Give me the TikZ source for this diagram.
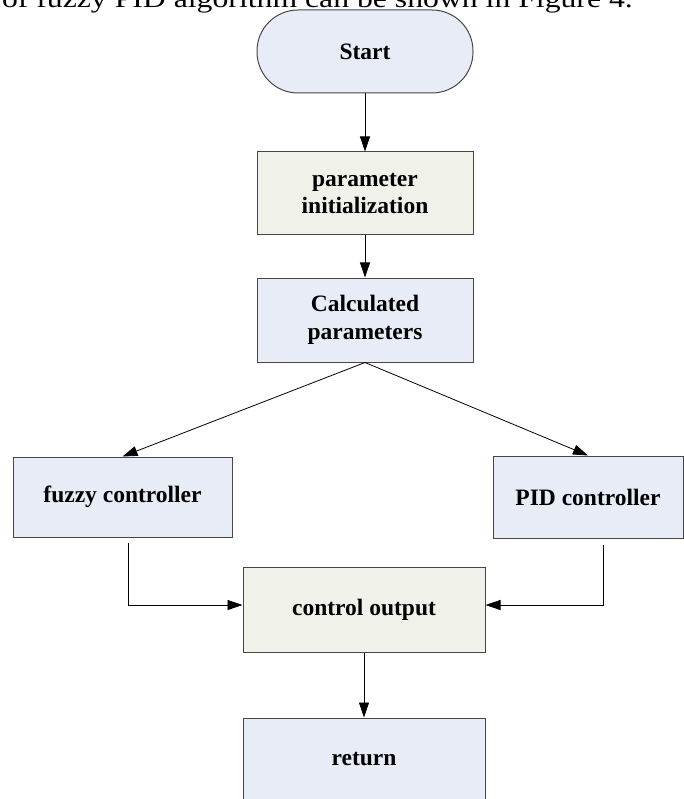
\documentclass[tikz,border=0pt]{standalone}
\usepackage{fontspec}
\setmainfont{Liberation Serif}
\usetikzlibrary{arrows.meta}
\definecolor{boxblue}{RGB}{231,236,247}
\definecolor{boxbeige}{RGB}{240,241,232}
\definecolor{edge}{RGB}{70,70,70}
\begin{document}
\begin{tikzpicture}[x=1pt,y=-1pt,
  box/.style={draw=edge,line width=1pt,fill=boxblue,align=center,
    font=\fontsize{23.5}{28}\selectfont\bfseries,inner sep=0pt},
  beigebox/.style={box,fill=boxbeige},
  conn/.style={line width=0.8pt,-{Triangle[length=15pt,width=10pt]}}]
\useasboundingbox (0,0) rectangle (684,799);
\begin{scope}
\clip (0,0) rectangle (684,799);
\node[anchor=base east,inner sep=0pt,font=\fontsize{26}{30}\selectfont] (cap) at (633,8) {\scalebox{1.22}[1]{of fuzzy PID algorithm can be shown in Figure 4.}};
\node[box,rounded corners=41pt,minimum width=216pt,minimum height=83pt] (start) at (365,51.5) {Start};
\node[beigebox,minimum width=216pt,minimum height=83pt] (param) at (365,193.5) {parameter\\initialization};
\node[box,minimum width=216pt,minimum height=84pt] (calc) at (365,320) {Calculated\\parameters};
\node[box,minimum width=219pt,minimum height=80pt] (fuzzy) at (122.5,497) {fuzzy controller};
\node[box,minimum width=190pt,minimum height=82pt] (pid) at (588,497) {PID controller};
\node[beigebox,minimum width=242pt,minimum height=85pt] (ctrl) at (364,609.5) {control output};
\node[box,minimum width=242pt,minimum height=100pt] (ret) at (364,768) {};
\node[font=\fontsize{23.5}{28}\selectfont\bfseries] (rettext) at (364,759) {return};
\draw[conn] (start) -- (param);
\draw[conn] (param) -- (calc);
\draw[conn] (calc.south) -- (fuzzy.north);
\draw[conn] (calc.south) -- (pid.north);
\draw[conn,shorten <=5pt] ([xshift=5.5pt]fuzzy.south) |- ([yshift=4.5pt]ctrl.west);
\draw[conn,shorten <=6pt] ([xshift=15pt]pid.south) |- ([yshift=4.5pt]ctrl.east);
\draw[conn] (ctrl) -- (ret);
\end{scope}
\end{tikzpicture}
\end{document}
